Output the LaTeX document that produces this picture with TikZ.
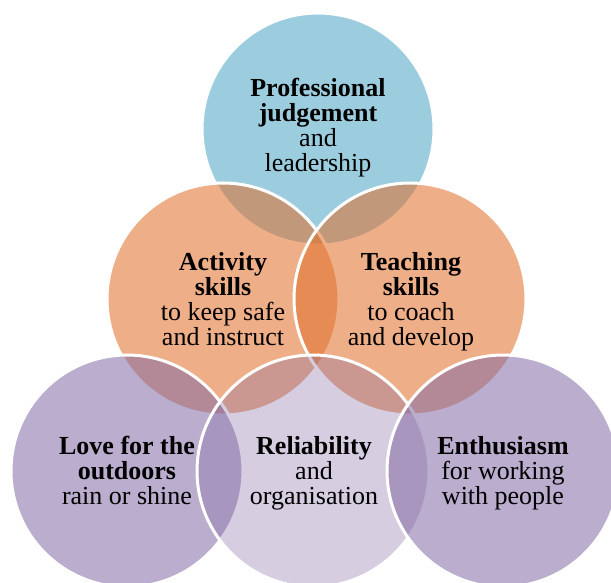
\documentclass[tikz,border=0pt]{standalone}
\usepackage{fontspec}
\setmainfont{Liberation Serif}
\usetikzlibrary{shapes.geometric}
\definecolor{vennblue}{RGB}{75,165,195}
\definecolor{vennorange}{RGB}{225,110,40}
\definecolor{vennpurple}{RGB}{131,106,164}
\begin{document}
\begin{tikzpicture}[
        x=1pt, y=-1pt,
        blob/.style={circle, draw=white, line width=3pt, fill opacity=0.55, minimum size=232pt, inner sep=0pt},
        venn_text/.style={align=center, font=\fontsize{26}{25}\selectfont, execute at begin node=\strut, execute at end node=\strut}
    ]
        \useasboundingbox (0,0) rectangle (611,583);
        \fill[white] (0,0) rectangle (611,583);
        \clip (0,0) rectangle (611,583);

        % Row 1: judgement
        \node[blob, fill=vennblue] (judge_circ) at (318,129) {};

        % Row 2: the two skill circles
        \node[blob, fill=vennorange] (activity_circ) at (223,299) {};
        \node[blob, fill=vennorange] (teaching_circ) at (410,299) {};

        % Row 3: outdoors, reliability, enthusiasm
        \node[blob, fill=vennpurple] (outdoors_circ) at (127,471) {};
        \node[blob, fill=vennpurple, fill opacity=0.33] (reliab_circ) at (313,471) {};
        \node[blob, fill=vennpurple] (enthus_circ) at (503,471) {};

        % Texts
        \node[venn_text] (judge_txt) at (318,129) {\textbf{Professional}\\\textbf{judgement}\\and\\leadership};
        \node[venn_text] (activity_txt) at (223,303) {\textbf{Activity}\\\textbf{skills}\\to keep safe\\and instruct};
        \node[venn_text] (teaching_txt) at (411,303) {\textbf{Teaching}\\\textbf{skills}\\to coach\\and develop};
        \node[venn_text] (outdoors_txt) at (127,474) {\textbf{Love for the}\\\textbf{outdoors}\\rain or shine};
        \node[venn_text] (reliab_txt) at (314,474) {\textbf{Reliability}\\and\\organisation};
        \node[venn_text] (enthus_txt) at (503,474) {\textbf{Enthusiasm}\\for working\\with people};
    \end{tikzpicture}
\end{document}
